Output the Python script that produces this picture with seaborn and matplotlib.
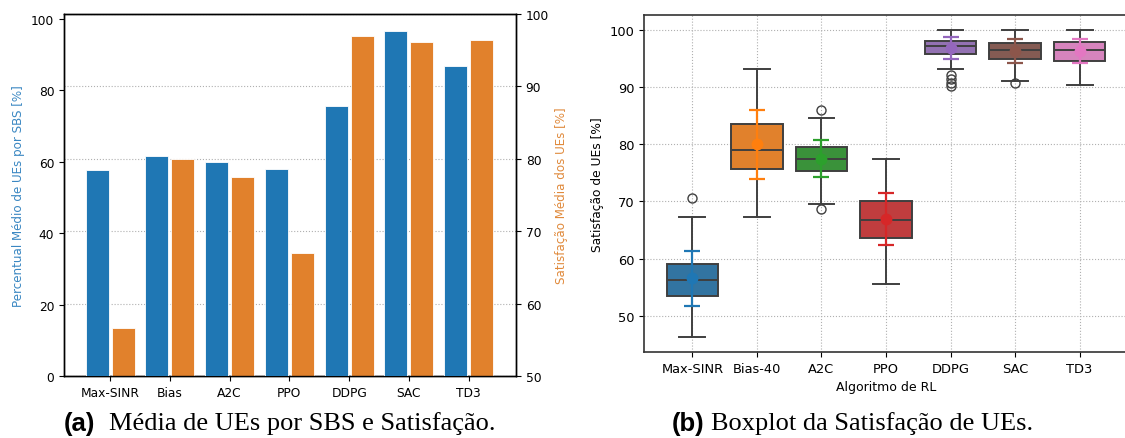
import numpy as np
import pandas as pd
import matplotlib
matplotlib.use("Agg")
import matplotlib.pyplot as plt
import seaborn as sns

# ---------------- data ----------------
algs_a = ["Max-SINR", "Bias", "A2C", "PPO", "DDPG", "SAC", "TD3"]
ues_sbs = [57.7, 61.6, 59.9, 58.0, 75.5, 96.6, 86.8]        # left axis (%)
satisf_mean = [56.6, 80.0, 77.5, 67.0, 96.9, 96.2, 96.4]    # right axis (%)

algs_b = ["Max-SINR", "Bias-40", "A2C", "PPO", "DDPG", "SAC", "TD3"]
q1 = [53.4, 75.7, 75.4, 63.6, 95.8, 94.9, 94.7]
med = [56.2, 79.0, 77.4, 66.7, 97.3, 96.6, 96.5]
q3 = [59.1, 83.5, 79.5, 70.1, 98.2, 97.7, 97.9]
whis_lo = [46.3, 67.2, 69.6, 55.6, 93.2, 91.2, 90.4]
whis_hi = [67.2, 93.3, 84.6, 77.4, 100.0, 100.0, 100.0]
fliers = [[70.6], [], [86.1, 68.7], [], [92.2, 91.5, 90.8, 90.2], [90.8], []]
mean_b = [56.5, 80.0, 77.5, 66.9, 96.9, 96.3, 96.35]
std_b = [4.75, 6.0, 3.25, 4.55, 2.0, 2.1, 2.15]

# ---------------- figure ----------------
W, H = 1125, 439
fig = plt.figure(figsize=(W / 100, H / 100), dpi=100)

def axpos(l, t, r, b):
    return [l / W, (H - b) / H, (r - l) / W, (b - t) / H]

BLUE = "#1f77b4"
ORANGE = "#e1812c"

# ---------- (a) bar chart with twin axes ----------
ax1 = fig.add_axes(axpos(64, 15, 516, 377))
ax2 = ax1.twinx()
ax1.set_zorder(ax2.get_zorder() + 1)
ax1.patch.set_visible(False)

series = ["ues", "sat"]
df1 = pd.DataFrame({"alg": algs_a * 2,
                    "serie": ["ues"] * 7 + ["sat"] * 7,
                    "val": list(ues_sbs) + [np.nan] * 7})
df2 = pd.DataFrame({"alg": algs_a * 2,
                    "serie": ["ues"] * 7 + ["sat"] * 7,
                    "val": [np.nan] * 7 + list(satisf_mean)})

sns.barplot(data=df1, x="alg", y="val", hue="serie", hue_order=series, order=algs_a,
            palette=[BLUE, ORANGE], saturation=1, width=0.87, gap=0.115,
            edgecolor="white", linewidth=0.6, legend=False, ax=ax1, zorder=3)
sns.barplot(data=df2, x="alg", y="val", hue="serie", hue_order=series, order=algs_a,
            palette=[BLUE, ORANGE], saturation=1, width=0.87, gap=0.115,
            edgecolor="white", linewidth=0.6, legend=False, ax=ax2, zorder=3)

ax1.set_ylim(0, 101.4)
ax1.set_yticks([0, 20, 40, 60, 80, 100])
ax2.set_ylim(50, 100)
ax2.set_yticks([50, 60, 70, 80, 90, 100])
ax1.set_xlim(-0.77, 6.79)
ax2.set_xlim(-0.77, 6.79)
ax2.grid(axis="y", linestyle=":", color="#b0b0b0", linewidth=0.8)
ax2.set_axisbelow(True)
ax1.set_xlabel("")
ax2.set_xlabel("")
ax1.set_ylabel("Percentual Médio de UEs por SBS [%]", color="#3a87c2", fontsize=8.6)
ax2.set_ylabel("Satisfação Média dos UEs [%]", color="#e08a3c", fontsize=8.6)
for a in (ax1, ax2):
    a.tick_params(labelsize=8.8)
    for s in a.spines.values():
        s.set_color("black")
        s.set_linewidth(1.0)

# ---------- (b) boxplot ----------
axb = fig.add_axes(axpos(644, 16, 1128, 353))
pal = sns.color_palette("tab10", 7)
box_cols = sns.color_palette("tab10", 7, desat=0.75)
GRAY = "#3f3f3f"
stats = [dict(med=med[i], q1=q1[i], q3=q3[i], whislo=whis_lo[i], whishi=whis_hi[i],
              fliers=fliers[i], label=algs_b[i]) for i in range(len(algs_b))]
bp = axb.bxp(stats, positions=range(len(algs_b)), widths=0.8, capwidths=0.4,
             patch_artist=True, showfliers=True,
             boxprops=dict(edgecolor=GRAY, linewidth=1.4),
             medianprops=dict(color=GRAY, linewidth=1.4),
             whiskerprops=dict(color=GRAY, linewidth=1.4),
             capprops=dict(color=GRAY, linewidth=1.4),
             flierprops=dict(marker="o", markerfacecolor="none", markeredgecolor=GRAY,
                             markersize=6.5, markeredgewidth=1.0))
for patch, c in zip(bp["boxes"], box_cols):
    patch.set_facecolor(c)

for i in range(len(algs_b)):
    axb.errorbar(i, mean_b[i], yerr=std_b[i], fmt="none", ecolor=pal[i],
                 elinewidth=1.6, capsize=5.5, capthick=1.6, zorder=4)
sns.pointplot(x=algs_b, y=mean_b, hue=algs_b, palette=list(pal), order=algs_b,
              hue_order=algs_b, errorbar=None, linestyle="none", markers="o",
              markersize=6.5, legend=False, ax=axb, zorder=5)

axb.set_xlim(-0.75, 6.75)
axb.set_yticks([50, 60, 70, 80, 90, 100])
axb.set_xticks(range(len(algs_b)))
axb.set_xticklabels(algs_b)
axb.grid(True, linestyle=":", color="#b0b0b0", linewidth=0.8)
axb.set_axisbelow(True)
axb.set_xlabel("Algoritmo de RL", fontsize=9)
axb.set_ylabel("Satisfação de UEs [%]", fontsize=8.8)
axb.tick_params(labelsize=9.4)
for s in axb.spines.values():
    s.set_color("#333333")
    s.set_linewidth(1.2)

# ---------- captions ----------
fig.text(64 / W, 1 - 424 / H, "(a)", fontfamily="Liberation Sans", fontweight="bold",
         fontsize=18.5, va="center", ha="left")
fig.text(109 / W, 1 - 424 / H, "Média de UEs por SBS e Satisfação.",
         fontfamily="Liberation Serif", fontsize=19, va="center", ha="left")
fig.text(672 / W, 1 - 424 / H, "(b)", fontfamily="Liberation Sans", fontweight="bold",
         fontsize=18.5, va="center", ha="left")
fig.text(711 / W, 1 - 424 / H, "Boxplot da Satisfação de UEs.",
         fontfamily="Liberation Serif", fontsize=19, va="center", ha="left")

fig.savefig("out.png", dpi=100)
